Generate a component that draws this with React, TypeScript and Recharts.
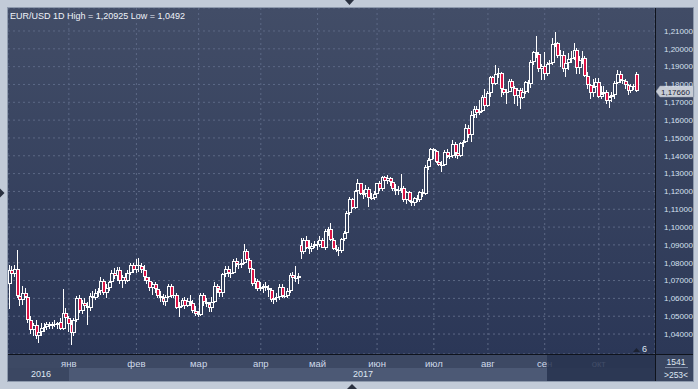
import React from 'react';
import { ComposedChart, Bar, XAxis, YAxis, CartesianGrid, ReferenceLine } from 'recharts';

type OHLC = [number, number, number, number];

// daily candles [open, high, low, close], Dec 2016 .. Oct 2017
const dec2016: OHLC[] = [
  [1.0680, 1.0790, 1.0540, 1.0760], [1.0760, 1.0780, 1.0715, 1.0735], [1.0735, 1.0790, 1.0720, 1.0765],
  [1.0765, 1.0874, 1.0600, 1.0615], [1.0615, 1.0650, 1.0560, 1.0590], [1.0590, 1.0670, 1.0565, 1.0630],
  [1.0630, 1.0660, 1.0600, 1.0610], [1.0610, 1.0630, 1.0460, 1.0480], [1.0480, 1.0500, 1.0400, 1.0420],
  [1.0420, 1.0460, 1.0390, 1.0450], [1.0450, 1.0480, 1.0370, 1.0390], [1.0390, 1.0430, 1.0352, 1.0410],
  [1.0410, 1.0460, 1.0390, 1.0435], [1.0435, 1.0460, 1.0410, 1.0440], [1.0440, 1.0470, 1.0420, 1.0455],
  [1.0455, 1.0470, 1.0430, 1.0445], [1.0445, 1.0465, 1.0430, 1.0455], [1.0455, 1.0480, 1.0440, 1.0450],
  [1.0450, 1.0470, 1.0430, 1.0460], [1.0470, 1.0490, 1.0420, 1.0430], [1.0430, 1.0653, 1.0420, 1.0520],
  [1.0520, 1.0545, 1.0470, 1.0490],
];
const jan: OHLC[] = [
  [1.0490, 1.0500, 1.0410, 1.0455], [1.0455, 1.0480, 1.0340, 1.0405], [1.0405, 1.0490, 1.0390, 1.0480],
  [1.0480, 1.0615, 1.0470, 1.0600], [1.0600, 1.0620, 1.0520, 1.0530], [1.0530, 1.0590, 1.0510, 1.0575],
  [1.0575, 1.0600, 1.0540, 1.0560], [1.0560, 1.0580, 1.0450, 1.0545], [1.0545, 1.0630, 1.0530, 1.0615],
  [1.0615, 1.0640, 1.0580, 1.0600], [1.0600, 1.0650, 1.0590, 1.0630], [1.0630, 1.0660, 1.0610, 1.0640],
  [1.0640, 1.0720, 1.0620, 1.0700], [1.0700, 1.0710, 1.0620, 1.0630], [1.0630, 1.0680, 1.0600, 1.0660],
  [1.0660, 1.0700, 1.0640, 1.0690], [1.0690, 1.0760, 1.0680, 1.0740], [1.0740, 1.0770, 1.0710, 1.0725],
  [1.0725, 1.0775, 1.0700, 1.0760], [1.0760, 1.0775, 1.0680, 1.0695], [1.0695, 1.0730, 1.0660, 1.0720],
  [1.0720, 1.0740, 1.0680, 1.0700], [1.0700, 1.0760, 1.0690, 1.0745], [1.0745, 1.0800, 1.0730, 1.0790],
  [1.0790, 1.0800, 1.0740, 1.0760],
];
const feb: OHLC[] = [
  [1.0760, 1.0820, 1.0740, 1.0790], [1.0790, 1.0829, 1.0750, 1.0780], [1.0780, 1.0800, 1.0740, 1.0760],
  [1.0760, 1.0790, 1.0700, 1.0720], [1.0720, 1.0760, 1.0680, 1.0700], [1.0700, 1.0720, 1.0640, 1.0660],
  [1.0660, 1.0690, 1.0620, 1.0680], [1.0680, 1.0690, 1.0630, 1.0650], [1.0650, 1.0670, 1.0600, 1.0615],
  [1.0615, 1.0640, 1.0580, 1.0600], [1.0600, 1.0625, 1.0565, 1.0580], [1.0580, 1.0620, 1.0560, 1.0610],
  [1.0610, 1.0680, 1.0600, 1.0670], [1.0670, 1.0680, 1.0600, 1.0615], [1.0615, 1.0640, 1.0600, 1.0620],
  [1.0620, 1.0630, 1.0540, 1.0545], [1.0545, 1.0580, 1.0494, 1.0560], [1.0560, 1.0600, 1.0550, 1.0590],
  [1.0590, 1.0610, 1.0540, 1.0560], [1.0560, 1.0600, 1.0550, 1.0585], [1.0585, 1.0620, 1.0560, 1.0575],
  [1.0575, 1.0590, 1.0520, 1.0530], [1.0530, 1.0560, 1.0500, 1.0510],
];
const mar: OHLC[] = [
  [1.0510, 1.0530, 1.0495, 1.0505], [1.0505, 1.0630, 1.0500, 1.0620], [1.0620, 1.0630, 1.0560, 1.0580],
  [1.0580, 1.0600, 1.0550, 1.0570], [1.0570, 1.0580, 1.0525, 1.0545], [1.0545, 1.0610, 1.0525, 1.0580],
  [1.0580, 1.0690, 1.0575, 1.0670], [1.0670, 1.0680, 1.0630, 1.0655], [1.0655, 1.0670, 1.0610, 1.0630],
  [1.0630, 1.0740, 1.0610, 1.0735], [1.0735, 1.0780, 1.0720, 1.0765], [1.0765, 1.0780, 1.0720, 1.0740],
  [1.0740, 1.0760, 1.0715, 1.0745], [1.0745, 1.0820, 1.0735, 1.0810], [1.0810, 1.0825, 1.0775, 1.0795],
  [1.0795, 1.0805, 1.0765, 1.0785], [1.0785, 1.0820, 1.0770, 1.0800], [1.0800, 1.0906, 1.0795, 1.0865],
  [1.0865, 1.0875, 1.0800, 1.0815], [1.0815, 1.0825, 1.0740, 1.0765], [1.0765, 1.0770, 1.0670, 1.0680],
  [1.0680, 1.0715, 1.0650, 1.0700], [1.0700, 1.0710, 1.0640, 1.0650],
];
const apr: OHLC[] = [
  [1.0650, 1.0690, 1.0640, 1.0665], [1.0665, 1.0680, 1.0630, 1.0670], [1.0670, 1.0690, 1.0640, 1.0660],
  [1.0660, 1.0675, 1.0610, 1.0645], [1.0645, 1.0660, 1.0580, 1.0590], [1.0590, 1.0610, 1.0570, 1.0600],
  [1.0600, 1.0630, 1.0580, 1.0610], [1.0610, 1.0680, 1.0590, 1.0665], [1.0665, 1.0680, 1.0600, 1.0615],
  [1.0615, 1.0625, 1.0600, 1.0615], [1.0615, 1.0660, 1.0600, 1.0640], [1.0640, 1.0740, 1.0630, 1.0730],
  [1.0730, 1.0750, 1.0700, 1.0715], [1.0715, 1.0780, 1.0690, 1.0715], [1.0715, 1.0740, 1.0680, 1.0725],
  [1.0900, 1.0937, 1.0821, 1.0860], [1.0860, 1.0940, 1.0850, 1.0930], [1.0930, 1.0950, 1.0875, 1.0880],
  [1.0880, 1.0930, 1.0850, 1.0875], [1.0875, 1.0910, 1.0860, 1.0895], [1.0895, 1.0920, 1.0880, 1.0905],
];
const may: OHLC[] = [
  [1.0905, 1.0920, 1.0870, 1.0900], [1.0900, 1.0950, 1.0890, 1.0930], [1.0930, 1.0940, 1.0880, 1.0885],
  [1.0885, 1.0990, 1.0870, 1.0980], [1.0980, 1.1000, 1.0950, 1.0990], [1.0990, 1.1023, 1.0920, 1.0930],
  [1.0930, 1.0940, 1.0870, 1.0875], [1.0875, 1.0900, 1.0860, 1.0870], [1.0870, 1.0890, 1.0840, 1.0865],
  [1.0865, 1.0940, 1.0855, 1.0935], [1.0935, 1.0980, 1.0920, 1.0965], [1.0965, 1.1090, 1.0960, 1.1080],
  [1.1080, 1.1170, 1.1070, 1.1160], [1.1160, 1.1165, 1.1100, 1.1105], [1.1105, 1.1210, 1.1100, 1.1205],
  [1.1205, 1.1268, 1.1200, 1.1245], [1.1245, 1.1250, 1.1180, 1.1185], [1.1185, 1.1210, 1.1160, 1.1185],
  [1.1185, 1.1235, 1.1170, 1.1215], [1.1215, 1.1225, 1.1110, 1.1165], [1.1165, 1.1190, 1.1150, 1.1165],
  [1.1165, 1.1200, 1.1150, 1.1185],
];
const jun: OHLC[] = [
  [1.1185, 1.1250, 1.1170, 1.1245], [1.1245, 1.1260, 1.1200, 1.1215], [1.1215, 1.1285, 1.1200, 1.1280],
  [1.1280, 1.1285, 1.1240, 1.1260], [1.1260, 1.1290, 1.1240, 1.1275], [1.1275, 1.1280, 1.1230, 1.1255],
  [1.1255, 1.1270, 1.1200, 1.1215], [1.1215, 1.1240, 1.1180, 1.1200], [1.1200, 1.1230, 1.1180, 1.1210],
  [1.1210, 1.1300, 1.1190, 1.1220], [1.1220, 1.1230, 1.1140, 1.1150], [1.1150, 1.1200, 1.1130, 1.1195],
  [1.1195, 1.1200, 1.1140, 1.1145], [1.1145, 1.1160, 1.1120, 1.1135], [1.1135, 1.1170, 1.1120, 1.1165],
  [1.1165, 1.1180, 1.1140, 1.1150], [1.1150, 1.1200, 1.1140, 1.1195], [1.1195, 1.1215, 1.1170, 1.1185],
  [1.1185, 1.1350, 1.1180, 1.1335], [1.1335, 1.1390, 1.1320, 1.1375], [1.1375, 1.1445, 1.1365, 1.1440],
];
const jul: OHLC[] = [
  [1.1440, 1.1445, 1.1380, 1.1425], [1.1425, 1.1430, 1.1360, 1.1365], [1.1365, 1.1380, 1.1340, 1.1350],
  [1.1350, 1.1370, 1.1310, 1.1350], [1.1350, 1.1430, 1.1340, 1.1420], [1.1420, 1.1440, 1.1390, 1.1400],
  [1.1400, 1.1420, 1.1380, 1.1400], [1.1400, 1.1490, 1.1385, 1.1465], [1.1465, 1.1480, 1.1390, 1.1415],
  [1.1415, 1.1440, 1.1380, 1.1400], [1.1400, 1.1480, 1.1395, 1.1470], [1.1470, 1.1490, 1.1450, 1.1475],
  [1.1475, 1.1580, 1.1470, 1.1555], [1.1555, 1.1570, 1.1500, 1.1515], [1.1515, 1.1650, 1.1480, 1.1630],
  [1.1630, 1.1680, 1.1610, 1.1665], [1.1665, 1.1680, 1.1610, 1.1640], [1.1640, 1.1715, 1.1630, 1.1650],
  [1.1650, 1.1740, 1.1645, 1.1730], [1.1730, 1.1777, 1.1660, 1.1680],
];
const aug: OHLC[] = [
  [1.1680, 1.1765, 1.1675, 1.1750], [1.1750, 1.1845, 1.1730, 1.1840], [1.1840, 1.1850, 1.1790, 1.1800],
  [1.1800, 1.1910, 1.1795, 1.1860], [1.1860, 1.1890, 1.1835, 1.1865], [1.1865, 1.1870, 1.1730, 1.1775],
  [1.1775, 1.1810, 1.1740, 1.1750], [1.1750, 1.1775, 1.1690, 1.1760], [1.1760, 1.1830, 1.1755, 1.1820],
  [1.1820, 1.1830, 1.1760, 1.1780], [1.1780, 1.1790, 1.1690, 1.1735], [1.1735, 1.1780, 1.1680, 1.1770],
  [1.1770, 1.1780, 1.1662, 1.1725], [1.1725, 1.1780, 1.1720, 1.1760], [1.1760, 1.1820, 1.1745, 1.1815],
  [1.1815, 1.1825, 1.1750, 1.1800], [1.1800, 1.1940, 1.1780, 1.1925], [1.1925, 1.1985, 1.1910, 1.1980],
  [1.1980, 1.2070, 1.1950, 1.1970], [1.1970, 1.1980, 1.1870, 1.1885], [1.1885, 1.1915, 1.1825, 1.1905],
];
const sep: OHLC[] = [
  [1.1905, 1.1980, 1.1823, 1.1860], [1.1860, 1.1925, 1.1850, 1.1915], [1.1915, 1.1940, 1.1890, 1.1920],
  [1.1920, 1.2060, 1.1910, 1.2025], [1.2025, 1.2092, 1.2010, 1.2035], [1.2035, 1.2040, 1.1950, 1.1960],
  [1.1960, 1.1995, 1.1900, 1.1965], [1.1965, 1.1985, 1.1870, 1.1885], [1.1885, 1.1935, 1.1840, 1.1920],
  [1.1920, 1.1975, 1.1880, 1.1945], [1.1945, 1.1990, 1.1920, 1.1950], [1.1950, 1.2035, 1.1940, 1.1995],
  [1.1995, 1.2005, 1.1860, 1.1890], [1.1890, 1.1960, 1.1860, 1.1940], [1.1940, 1.1985, 1.1915, 1.1950],
  [1.1950, 1.1960, 1.1840, 1.1845], [1.1845, 1.1870, 1.1775, 1.1795], [1.1795, 1.1800, 1.1717, 1.1750],
  [1.1750, 1.1830, 1.1730, 1.1785], [1.1785, 1.1835, 1.1775, 1.1815],
];
const oct: OHLC[] = [
  [1.1815, 1.1835, 1.1725, 1.1730], [1.1730, 1.1790, 1.1720, 1.1745], [1.1745, 1.1790, 1.1730, 1.1760],
  [1.1760, 1.1770, 1.1690, 1.1705], [1.1705, 1.1735, 1.1669, 1.1730], [1.1730, 1.1760, 1.1700, 1.1740],
  [1.1740, 1.1820, 1.1720, 1.1810], [1.1810, 1.1880, 1.1800, 1.1860], [1.1860, 1.1875, 1.1810, 1.1825],
  [1.1825, 1.1860, 1.1805, 1.1820], [1.1820, 1.1830, 1.1775, 1.1795], [1.1795, 1.1800, 1.1740, 1.1765],
  [1.1765, 1.1800, 1.1750, 1.1790], [1.1790, 1.1805, 1.1770, 1.1785], [1.1860, 1.1870, 1.1760, 1.1766],
];

const months = [dec2016, jan, feb, mar, apr, may, jun, jul, aug, sep, oct];
const monthNames = ['дек', 'янв', 'фев', 'мар', 'апр', 'май', 'июн', 'июл', 'авг', 'сен', 'окт'];
const yTicks = [1.04, 1.05, 1.06, 1.07, 1.08, 1.09, 1.10, 1.11, 1.12, 1.13, 1.14, 1.15, 1.16, 1.17, 1.18, 1.19, 1.20, 1.21];
const title = 'EUR/USD 1D High = 1,20925 Low = 1,0492';

const W = 698;
const H = 389;
const UP_RED = '#dc1446';
const TEXT = '#d6e0f0';

const candles: { i: string; o: number; h: number; l: number; c: number }[] = [];
const monthTicks: string[] = [];
const tickName: Record<string, string> = {};
months.forEach((m, mi) => {
  const key = String(candles.length);
  if (mi > 0) {
    monthTicks.push(key);
    tickName[key] = monthNames[mi];
  }
  m.forEach(([o, h, l, c]) => candles.push({ i: String(candles.length), o, h, l, c }));
});
const lastClose = candles[candles.length - 1].c;
const fmt = (v: number) => v.toFixed(5).replace('.', ',');

function Candle(props: any) {
  const { x, y, width, height, payload } = props;
  if (!payload || x == null || y == null) return null;
  const { o, h, l, c } = payload;
  const top = Math.min(y, y + height);
  const span = Math.abs(height);
  const toY = (v: number) => (h > l ? top + ((h - v) / (h - l)) * span : top);
  const left = Math.round(x + width / 2 - 2);
  const wx = left + 1.5;
  const hiY = Math.round(top);
  const loY = Math.round(top + span);
  const b1 = Math.round(toY(Math.max(o, c)));
  const b2 = Math.round(toY(Math.min(o, c)));
  const down = c < o;
  return (
    <g>
      <line x1={wx} x2={wx} y1={hiY} y2={loY} stroke="#fff" strokeWidth={1} />
      {b2 - b1 < 2 ? (
        <line x1={left} x2={left + 4} y1={b1 + 0.5} y2={b1 + 0.5} stroke="#fff" strokeWidth={1} />
      ) : (
        <rect x={left + 0.5} y={b1 + 0.5} width={3} height={b2 - b1 - 1}
          fill={down ? UP_RED : '#34405c'} stroke="#fff" strokeWidth={1} />
      )}
    </g>
  );
}

function MonthTick(props: any) {
  const { x, y, payload } = props;
  return (
    <text x={x} y={y + 12.5} textAnchor="middle" fontSize={9.5} fill="#cfd9ea">
      {tickName[payload.value]}
    </text>
  );
}

function PriceTag(props: any) {
  const vb = props.viewBox || {};
  const x0 = (vb.x ?? 0) + (vb.width ?? 0) + 1;
  const y0 = Math.round(vb.y ?? 0) + 0.5;
  return (
    <g>
      <path d={`M${x0},${y0} L${x0 + 4},${y0 - 5.5} L${x0 + 38},${y0 - 5.5} L${x0 + 38},${y0 + 5.5} L${x0 + 4},${y0 + 5.5} Z`}
        fill="#c7ccd5" stroke="#9aa3b3" strokeWidth={0.5} />
      <text x={x0 + 5} y={y0 + 3} fontSize={8} fill="#1d2438">{props.text}</text>
    </g>
  );
}

export default function App() {
  return (
    <div style={{ position: 'relative', width: W, height: H, background: '#c2cbd8', overflow: 'hidden',
      fontFamily: '"Liberation Sans", Arial, sans-serif' }}>
      <style>{'body{margin:0}'}</style>
      <svg width={W} height={H} style={{ position: 'absolute', left: 0, top: 0 }}>
        <defs>
          <linearGradient id="panelBg" x1="0" y1="0" x2="0" y2="1">
            <stop offset="0%" stopColor="#414c66" />
            <stop offset="100%" stopColor="#2c3857" />
          </linearGradient>
        </defs>
        <rect x={656} y={8} width={38} height={346} fill="url(#panelBg)" />
        <rect x={8} y={355} width={647} height={13} fill="#3d4964" />
        <rect x={8} y={368} width={647} height={13} fill="#3b4762" />
        <rect x={69} y={368} width={586} height={13} fill="#4c5975" />
        <rect x={656} y={355} width={38} height={26} fill="#3a4661" />
      </svg>
      <div style={{ position: 'absolute', left: 0, top: 0 }}>
        <ComposedChart width={W} height={H} data={candles} barCategoryGap={0}
          margin={{ top: 8, right: 0, bottom: 0, left: 8 }}>
          <defs>
            <linearGradient id="plotBg" x1="0" y1="0" x2="0" y2="1">
              <stop offset="0%" stopColor="#424d67" />
              <stop offset="100%" stopColor="#2b3757" />
            </linearGradient>
          </defs>
          <CartesianGrid stroke="#5c6885" strokeDasharray="2 3" fill="url(#plotBg)" fillOpacity={1} />
          <XAxis dataKey="i" ticks={monthTicks} interval={0} height={35} padding={{ left: 0, right: 17 }}
            axisLine={false} tickLine={false} tickSize={0} tickMargin={0} tick={<MonthTick />} />
          <YAxis orientation="right" width={43} type="number" domain={[1.0288, 1.2229]} allowDataOverflow
            ticks={yTicks} interval={0} tickFormatter={fmt} axisLine={false} tickLine={false}
            tickSize={6} tickMargin={3} tick={{ fontSize: 8, fill: TEXT }} />
          <Bar dataKey={(d: any) => [d.l, d.h]} shape={<Candle />} isAnimationActive={false} />
          <ReferenceLine y={lastClose} stroke="none" label={<PriceTag text={fmt(lastClose)} />} />
        </ComposedChart>
      </div>
      <svg width={W} height={H} style={{ position: 'absolute', left: 0, top: 0, pointerEvents: 'none' }}>
        <rect x={547} y={355} width={108} height={26} fill="#27334f" opacity={0.85} />
        <line x1={655.5} x2={655.5} y1={8} y2={381} stroke="#0f131c" />
        <line x1={8} x2={694} y1={354.5} y2={354.5} stroke="#0f131c" />
        <rect x={7.5} y={7.5} width={686} height={374} fill="none" stroke="#8e9aad" />
        <text x={10} y={18.5} fontSize={9} fill="#eef2f8">{title}</text>
        <text x={41} y={377} fontSize={9} textAnchor="middle" fill="#dfe6f2">2016</text>
        <text x={363} y={377} fontSize={9} textAnchor="middle" fill="#dfe6f2">2017</text>
        <text x={676} y={365} fontSize={8.5} textAnchor="middle" fill="#dfe6f2">1541</text>
        <line x1={665} x2={688} y1={367.5} y2={367.5} stroke="#7d8aa2" />
        <text x={676} y={378} fontSize={8.5} textAnchor="middle" fill="#dfe6f2">{'>253<'}</text>
        <path d="M633,352 L640,352 L636.5,348 Z" fill="#1c2232" />
        <text x={642} y={351.5} fontSize={9} fill="#dfe6f2">6</text>
        <path d="M345,0 L354,0 L349.5,5 Z" fill="#2a3140" />
        <path d="M0,188.5 L0,197.5 L4.5,193 Z" fill="#2a3140" />
        <path d="M347,389 L357,389 L352,384 Z" fill="#2a3140" />
      </svg>
    </div>
  );
}
